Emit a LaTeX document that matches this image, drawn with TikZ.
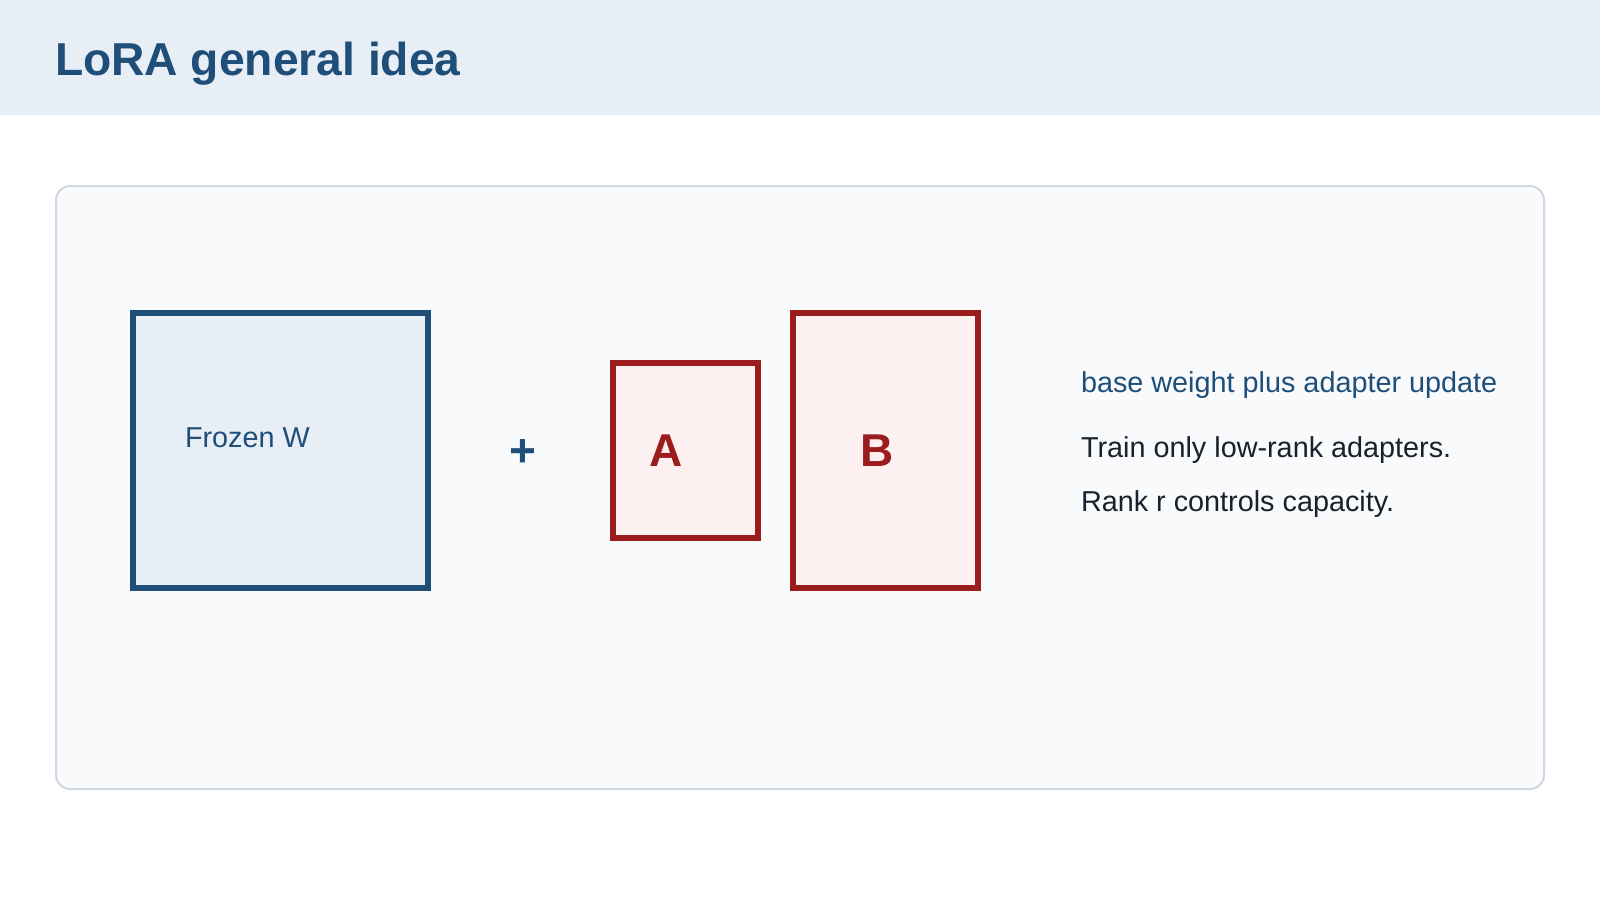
\documentclass[tikz,border=0pt]{standalone}
\usepackage{fontspec}
\setmainfont{Liberation Sans}
\definecolor{headbg}{HTML}{E8EEF6}
\definecolor{navy}{HTML}{1F4E79}
\definecolor{panelbg}{HTML}{F8FAFC}
\definecolor{panelline}{HTML}{D0D7E2}
\definecolor{darkred}{HTML}{9B1C1C}
\definecolor{redbg}{HTML}{FDF0F0}
\definecolor{ink}{HTML}{1A202C}

\begin{document}
\begin{tikzpicture}
        [x=1pt, y=-1pt, every node/.style={inner sep=0, outer sep=0},
         matbox/.style={draw, shape=rectangle, line width=6pt},
         txt/.style={anchor=base west, font=\fontsize{28.8}{32}\selectfont}]

        \fill[white] (0,0) rectangle (1600,900);
        \useasboundingbox (0,0) rectangle (1600,900);
        \fill[headbg] (0,0) rectangle (1600,115);
        \node[anchor=base west, text=navy, font=\fontsize{46.2}{50}\selectfont\bfseries] (title) at (55,75) {LoRA general idea};

        \draw[panelline, fill=panelbg, line width=2pt, rounded corners=14pt] (56,186) rectangle (1544,789);

        \node[matbox, draw=navy, fill=headbg, minimum width=295, minimum height=275] (frozen) at (280.5,450.5) {};
        \node[txt, text=navy] (wlabel) at (185,447) {Frozen W};
        \node[text=navy, font=\fontsize{46}{50}\selectfont\bfseries] (plus) at (523,453) {+};
        \node[matbox, draw=darkred, fill=redbg, minimum width=145, minimum height=175] (boxa) at (685.5,450.5) {};
        \node[matbox, draw=darkred, fill=redbg, minimum width=185, minimum height=275] (boxb) at (885.5,450.5) {};
        \node[text=darkred, font=\fontsize{46}{50}\selectfont\bfseries] (la) at (666,451) {A};
        \node[text=darkred, font=\fontsize{46}{50}\selectfont\bfseries] (lb) at (877,451) {B};

        \node[txt, text=navy] (note) at (1081,392) {base weight plus adapter update};
        \node[txt, text=ink] (line1) at (1081,457) {Train only low-rank adapters.};
        \node[txt, text=ink] (line2) at (1081,511) {Rank r controls capacity.};

      \end{tikzpicture}
\end{document}
